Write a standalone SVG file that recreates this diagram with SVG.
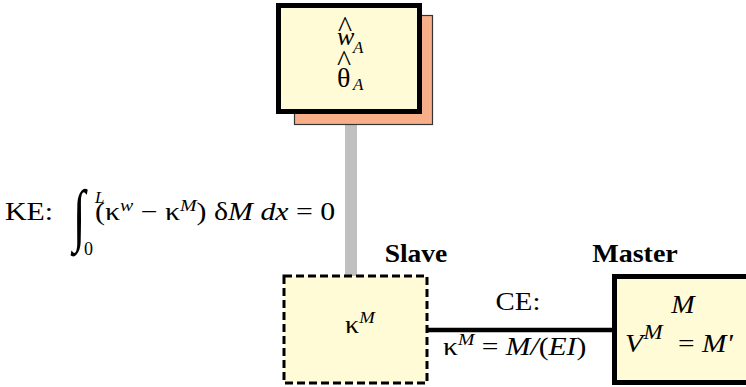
<svg xmlns="http://www.w3.org/2000/svg" width="746" height="387" viewBox="0 0 746 387">
<style>
text{font-family:"Liberation Serif","Times New Roman",serif;fill:#000}
.t{font-size:25.5px}
.i{font-style:italic}
.b{font-weight:bold;font-size:25.5px}
.sup{font-size:17px;font-style:italic}
.box{fill:#FFFBD6}
</style>
<rect width="746" height="387" fill="#fff"/>
<g id="connectors">
<line x1="351" y1="124" x2="351" y2="276" stroke="#C0C0C0" stroke-width="12"/>
<line x1="427" y1="330" x2="614" y2="330" stroke="#000" stroke-width="4.5"/>
</g>
<g id="top-node">
<rect x="294.5" y="15.5" width="138" height="109" fill="#F7AF8A" stroke="#333" stroke-width="1.2"/>
<rect x="278.5" y="5.5" width="141" height="106" class="box" stroke="#000" stroke-width="5"/>
<text x="345" y="37" font-size="30" text-anchor="middle">^</text>
<text x="337" y="45" font-size="26" class="i">w</text>
<text x="353" y="53" font-size="17" class="i">A</text>
<text x="344" y="71" font-size="30" text-anchor="middle">^</text>
<text x="337" y="87" font-size="28">θ</text>
<text x="353" y="90" font-size="17" class="i">A</text>
</g>
<g id="ke-label">
<text class="t" transform="translate(5,220) scale(1.17,1)">KE:</text>
<text font-size="50" transform="translate(73,238) scale(0.9,1.38)">∫</text>
<text x="95" y="203" font-size="17" class="i">L</text>
<text x="84" y="255" font-size="18">0</text>
<text class="t" transform="translate(95,220) scale(1.17,1)">(κ<tspan class="sup" dy="-9">w</tspan><tspan dy="9"> − κ</tspan><tspan class="sup" dy="-9">M</tspan><tspan dy="9">) δ</tspan><tspan class="i">M dx</tspan> = 0</text>
</g>
<g id="slave">
<text class="b" text-anchor="middle" transform="translate(416,262) scale(1.08,1)">Slave</text>
<rect x="284" y="276" width="143" height="107" class="box" stroke="#000" stroke-width="3" stroke-dasharray="8,4"/>
<text class="t" transform="translate(345,333) scale(1.1,1)">κ<tspan class="sup" dy="-10">M</tspan></text>
</g>
<g id="ce-label">
<text class="t" text-anchor="middle" transform="translate(518,310) scale(1.13,1)">CE:</text>
<text class="t" transform="translate(443,355) scale(1.16,1)">κ<tspan class="sup" dy="-10">M</tspan><tspan dy="10"> = </tspan><tspan class="i">M/</tspan>(<tspan class="i">EI</tspan>)</text>
</g>
<g id="master">
<text class="b" text-anchor="middle" transform="translate(635,262) scale(1.1,1)">Master</text>
<rect x="614.5" y="276.5" width="140" height="106" class="box" stroke="#000" stroke-width="5"/>
<text class="t i" text-anchor="middle" transform="translate(683,313) scale(1.1,1)">M</text>
<text class="t" transform="translate(625,352) scale(1.15,1)"><tspan class="i">V</tspan><tspan x="16" dy="-13" class="i" font-size="20">M</tspan><tspan x="46" dy="13">=</tspan><tspan x="67" class="i">M'</tspan></text>
</g>
</svg>
